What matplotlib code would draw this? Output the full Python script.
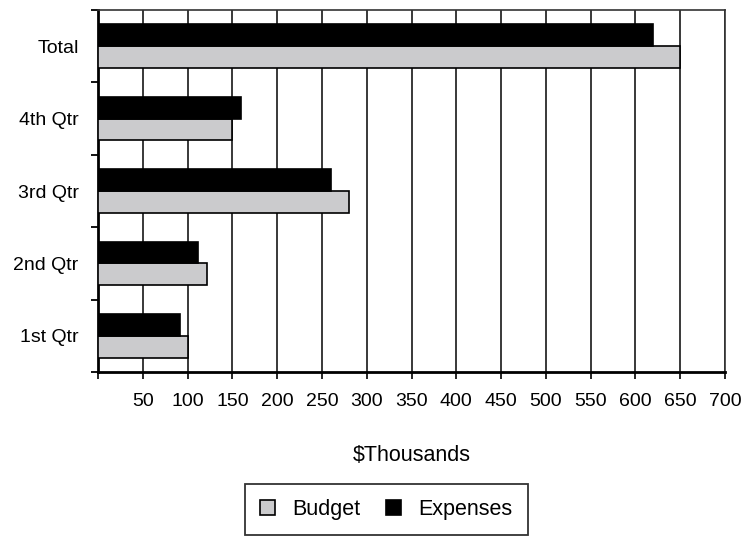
import numpy as np
import matplotlib.pyplot as plt
from matplotlib.patches import Patch
from matplotlib.ticker import FixedLocator

plt.rcParams['font.family'] = ['Liberation Sans', 'DejaVu Sans']

# quarterly budget vs. expenses, $ thousands
categories = ["1st Qtr", "2nd Qtr", "3rd Qtr", "4th Qtr", "Total"]
budget = [100, 122, 280, 150, 650]
expenses = [92, 112, 260, 160, 620]

x_ticks = list(range(0, 701, 50))
x_labels = [""] + [str(v) for v in x_ticks[1:]]

BUDGET_COLOR = "#cbcbcd"
EXPENSE_COLOR = "#000000"

fig = plt.figure(figsize=(7.44, 5.36), dpi=100)
ax = fig.add_axes([98 / 744, 1 - 372 / 536, 627 / 744, 362 / 536])

y = np.arange(len(categories))
h = 0.3

ax.barh(y - h / 2, budget, height=h, color=BUDGET_COLOR,
        edgecolor="black", linewidth=1.2, zorder=3)
ax.barh(y + h / 2, expenses, height=h, color=EXPENSE_COLOR,
        edgecolor="black", linewidth=1.2, zorder=3)

ax.set_xlim(0, 700)
ax.set_ylim(-0.5, len(categories) - 0.5)

ax.set_xticks(x_ticks)
ax.set_xticklabels(x_labels, fontsize=14)
ax.tick_params(axis="x", direction="out", length=5, width=1.2, pad=10)
ax.xaxis.grid(True, color="#2a2a2a", linewidth=1.3, zorder=0)

# category names centred on each band, tick marks on band boundaries
ax.set_yticks(y)
ax.set_yticklabels(categories, fontsize=14)
ax.tick_params(axis="y", which="major", length=0, pad=14)
ax.yaxis.set_minor_locator(FixedLocator(np.arange(-0.5, len(categories), 1.0)))
ax.tick_params(axis="y", which="minor", direction="out", length=5, width=1.3)

for side in ("left", "bottom"):
    ax.spines[side].set_linewidth(2.0)
for side in ("top", "right"):
    ax.spines[side].set_linewidth(1.2)
    ax.spines[side].set_color("#333333")

ax.set_xlabel("$Thousands", fontsize=15.5, labelpad=25)

handles = [Patch(facecolor=BUDGET_COLOR, edgecolor="black", linewidth=1.2),
           Patch(facecolor=EXPENSE_COLOR, edgecolor="black", linewidth=1.2)]
leg = fig.legend(handles, ["Budget", "Expenses"], loc="upper left",
                 bbox_to_anchor=(245 / 744, 1 - 484 / 536), ncol=2,
                 fontsize=15.5, frameon=True, fancybox=False,
                 handlelength=0.7, handleheight=0.7, handletextpad=0.8,
                 columnspacing=1.2, borderpad=0.7, borderaxespad=0)
leg.get_frame().set_edgecolor("black")
leg.get_frame().set_linewidth(1.3)

fig.savefig("out.png", dpi=100)
